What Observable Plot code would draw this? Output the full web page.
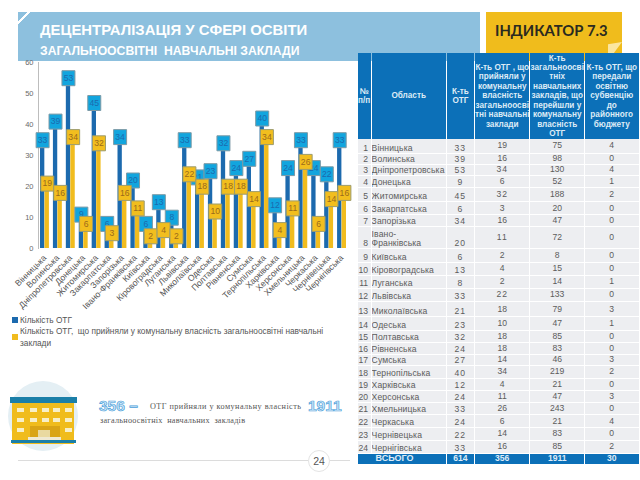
<!DOCTYPE html>
<html lang="uk">
<head>
<meta charset="utf-8">
<script src="https://cdn.jsdelivr.net/npm/d3@7"></script>
<script src="https://cdn.jsdelivr.net/npm/@observablehq/plot@0.6"></script>
<style>
html,body{margin:0;padding:0;background:#fff;overflow:hidden}
#page{position:relative;width:640px;height:480px;overflow:hidden;font-family:"Liberation Sans",Arial,sans-serif;color:#555}
.abs{position:absolute}
#banner{left:18px;top:12px;width:462px;height:49px;background:linear-gradient(135deg,#8DC0DE 0 6.5px,#fff 6.5px 8.5px,#8DC0DE 8.5px)}
#t1{left:40px;top:20px;font:bold 14.9px/20px "Liberation Sans";color:#fff;white-space:nowrap}
#t2{left:40px;top:44px;font:bold 12.2px/14px "Liberation Sans";color:#fff;white-space:nowrap}
#ind{left:486px;top:12px;width:136px;height:49px;background:#F0BC1C}
#ind span{position:absolute;left:9px;top:8px;font:bold 14.8px/20px Lato;color:#2a2a20;white-space:nowrap}
#fold{left:608px;top:42px;width:14px;height:19px;background:#FBE6A0;clip-path:polygon(100% 0,0 100%,0 12%)}
#chart{left:0;top:50px}
.sw{width:6px;height:6px}
.leg{font:8.3px/12px "Liberation Sans";color:#555;white-space:nowrap}
table{position:absolute;left:356.5px;top:53px;border-collapse:separate;border-spacing:1.5px 0;table-layout:fixed;width:283px}
td,th{padding:0;overflow:hidden;text-align:center}
th{background:#0C70B8;color:#DDEBF6;font:bold 8.2px/9.4px "Liberation Sans";height:86px;white-space:nowrap}
tbody td{font:8.6px/9px "Liberation Sans";color:#5c5c5c;background:#EDEEF1;border-bottom:1px solid #fff;box-sizing:border-box;white-space:nowrap}
td.l{text-align:left;letter-spacing:.1px;vertical-align:bottom}
td.n{text-align:right;padding-right:2.5px;vertical-align:bottom}
td.b{letter-spacing:1px;vertical-align:bottom}
td.m{vertical-align:middle}
tr.total td{background:#0C70B8;color:#DCEBF7;font-weight:bold;border-bottom:0;vertical-align:middle;padding:0;letter-spacing:0}
tr.total td.l{font-size:9px}
.big{font:bold 15.5px/18px "Liberation Sans";color:#CFE8F8;-webkit-text-stroke:.7px #4C9FDA;white-space:nowrap}
.ser{font:8.2px/12px "Liberation Serif";color:#555;white-space:nowrap;letter-spacing:.45px}
#rule1{left:18px;top:460px;width:290px;height:1px;background:#dcdcdc}
#rule2{left:330px;top:460px;width:20px;height:1px;background:#dcdcdc}
#pg{left:308px;top:450px;width:20px;height:20px;border:1px solid #e4e4e4;border-radius:50%;text-align:center;font:10.5px/20px "Liberation Sans";color:#555;box-sizing:content-box;background:#fff}
</style>
</head>
<body>
<div id="page">
  <div class="abs" id="banner"></div>
  <div class="abs" id="t1">ДЕЦЕНТРАЛІЗАЦІЯ У СФЕРІ ОСВІТИ</div>
  <div class="abs" id="t2">ЗАГАЛЬНООСВІТНІ&nbsp; НАВЧАЛЬНІ ЗАКЛАДИ</div>
  <div class="abs" id="ind"><span>ІНДИКАТОР 7.3</span></div>
  <div class="abs" id="fold"></div>
  <div class="abs" id="chart"></div>
  <div class="abs sw" style="left:12px;top:317px;background:#1C6AAE"></div>
  <div class="abs leg" style="left:20px;top:314px">Кількість ОТГ</div>
  <div class="abs sw" style="left:12px;top:334px;background:#F1BC1E"></div>
  <div class="abs leg" style="left:20px;top:325px">Кількість ОТГ,&nbsp; що прийняли у комунальну власність загальноосвітні навчальні<br>заклади</div>
  <svg class="abs" style="left:6px;top:378px" width="76" height="76" viewBox="0 0 76 76">
    <circle cx="37" cy="38" r="35" fill="#E4EFF4"/>
    <rect x="6" y="25" width="62" height="41" fill="#F0BC1C"/>
    <rect x="4" y="19" width="67" height="6" fill="#1B7FA8"/>
    <rect x="5" y="62" width="65" height="3" fill="#1B7FA8"/>
    <path fill="#F7EFC8" d="M11 30h7v4h-7zM24 30h7v4h-7zM36 30h7v4h-7zM47 30h7v4h-7zM59 30h7v4h-7zM11 40h7v4h-7zM24 40h7v4h-7zM36 40h7v4h-7zM47 40h7v4h-7zM59 40h7v4h-7zM11 50h7v4h-7zM59 50h7v4h-7z"/>
    <rect x="24" y="48" width="30" height="14" fill="#D9A415"/>
    <rect x="32" y="52" width="12" height="8" fill="#E9D9A0"/>
    <rect x="22" y="59" width="33" height="3" fill="#EFE9D2"/>
  </svg>
  <div class="abs big" style="left:99px;top:397px">356 –</div>
  <div class="abs ser" style="left:150px;top:401px">ОТГ прийняли у комунальну власність</div>
  <div class="abs big" style="left:308px;top:397px">1911</div>
  <div class="abs ser" style="left:100px;top:415px;letter-spacing:.25px">загальноосвітніх&nbsp; навчальних&nbsp; закладів</div>
  <div class="abs" id="rule1"></div>
  <div class="abs" id="rule2"></div>
  <div class="abs" id="pg">24</div>
  <table id="tbl"></table>
</div>
<script>
const regions = ["Вінницька","Волинська","Дніпропетровська","Донецька","Житомирська","Закарпатська","Запорізька","Івано-Франківська","Київська","Кіровоградська","Луганська","Львівська","Миколаївська","Одеська","Полтавська","Рівненська","Сумська","Тернопільська","Харківська","Херсонська","Хмельницька","Черкаська","Чернівецька","Чернігівська"];
const otg = [33,39,53,9,45,6,34,20,6,13,8,33,21,23,32,24,27,40,12,24,33,24,22,33];
const accepted = [19,16,34,6,32,3,16,11,2,4,2,22,18,10,18,18,14,34,4,11,26,6,14,16];
const schools = [75,98,130,52,188,20,47,72,8,15,14,133,79,47,85,83,46,219,21,47,243,21,83,85];
const subvention = [4,0,4,1,2,0,0,0,0,0,1,0,3,1,0,0,3,2,0,3,0,4,0,2];
const totals = ["ВСЬОГО","614","356","1911","30"];
const headers = ["№\nп/п","Область","К-ть\nОТГ","К-ть ОТГ , що\nприйняли у\nкомунальну\nвласність\nзагальноосві\nтні навчальні\nзаклади","К-ть\nзагальноосві\nтніх\nнавчальних\nзакладів, що\nперейшли у\nкомунальну\nвласність\nОТГ","К-ть ОТГ, що\nпередали\nосвітню\nсубвенцію\nдо\nрайонного\nбюджету"];

const colWidths = [13,73.5,27,54,53,53];
const rowHeights = [14.5,11,11.5,12,14,13,12,22,13.5,13,13,13.5,15,13.5,12.5,11.5,11.5,12.5,12.5,11.5,12.5,13,12.5,13];

const blue = regions.map((r,i)=>({region:r,value:otg[i]}));
const yellow = regions.map((r,i)=>({region:r,value:accepted[i]}));

const box = {draw(c){c.rect(-6.5,-7.5,13,15)}};
const off = 2.35;

const chart = Plot.plot({
  width:355, height:270,
  marginLeft:38, marginRight:7, marginTop:12, marginBottom:72,
  style:{fontFamily:"Liberation Sans",background:"transparent",overflow:"visible"},
  x:{domain:regions,padding:0,round:false,label:null},
  y:{domain:[0,60],ticks:[0,10,20,30,40,50,60],label:null},
  marks:[
    Plot.axisY({ticks:[0,10,20,30,40,50,60],tickSize:0,tickPadding:5,fontSize:7.5,fill:"#6a6a6a",label:null}),
    Plot.axisX({tickRotate:-45,tickSize:0,tickPadding:8,fontSize:8.6,fill:"#555",label:null}),
    Plot.frame({anchor:"left",stroke:"#bdbdbd"}),
    Plot.barY(blue,{x:"region",y:"value",fill:"#1C6AAE",insetLeft:2,insetRight:6.6}),
    Plot.barY(yellow,{x:"region",y:"value",fill:"#F1BC1E",insetLeft:6.5,insetRight:2}),
    Plot.dot(blue,{x:"region",y:"value",dx:-off,dy:-6,symbol:box,fill:"#12A5DE",stroke:"#7d9aa6",strokeWidth:1}),
    Plot.text(blue,{x:"region",y:"value",text:"value",dx:-off,dy:-6,fill:"#1C6AAE",fontSize:8.6}),
    Plot.dot(yellow,{x:"region",y:"value",dx:off,dy:-6,symbol:box,fill:"#F2BE1E",stroke:"#9c9c6e",strokeWidth:1}),
    Plot.text(yellow,{x:"region",y:"value",text:"value",dx:off,dy:-6,fill:"#9A6A1C",fontSize:8.6})
  ]
});
document.getElementById("chart").append(chart);

const t = d3.select("#tbl");
t.append("colgroup").selectAll("col").data(colWidths).join("col").style("width",d=>d+"px");
t.append("thead").append("tr").selectAll("th").data(headers).join("th")
  .html(d=>d.replace(/\n/g,"<br>"));
const tb = t.append("tbody");
regions.forEach((r,i)=>{
  const tr = tb.append("tr").style("height",rowHeights[i]+"px");
  tr.append("td").attr("class","n").style("height",rowHeights[i]+"px").text(i+1);
  tr.append("td").attr("class","l").html(r.replace("-","-<br>"));
  tr.append("td").attr("class","b").text(otg[i]);
  tr.append("td").attr("class","m").style("letter-spacing",[3,5,8,12].includes(i+1)?"1px":null).text(accepted[i]);
  tr.append("td").attr("class","m").text(schools[i]);
  tr.append("td").attr("class","m").text(subvention[i]);
});
const ft = tb.append("tr").attr("class","total").style("height","10.5px");
totals.forEach((v,i)=>{
  const td = ft.append("td").attr("class",i===0?"l":null).text(v);
  if(i===0) td.attr("colspan",2).style("padding-left","18px");
});
</script>
</body>
</html>
